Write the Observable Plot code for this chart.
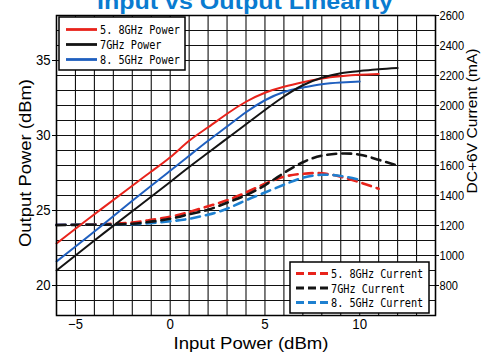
<!DOCTYPE html>
<html><head><meta charset="utf-8">
<script src="https://cdn.jsdelivr.net/npm/d3@7"></script>
<script src="https://cdn.jsdelivr.net/npm/@observablehq/plot@0.6"></script>
<style>
body{margin:0;background:#fff}
#chart{position:relative;width:497px;height:353px;overflow:hidden}
</style>
</head><body><div id="chart"></div>
<script>
// ---- data ----
const xTicks = [-5, 0, 5, 10];
const leftTicks = [20, 25, 30, 35];
const rightTickLabels = [800, 1000, 1200, 1400, 1600, 1800, 2000, 2200, 2400, 2600];

const powerX58 = [-6, -4, -2, -1, 0, 1, 2, 3, 4, 5, 6, 7, 8, 9, 10, 11];
const power58  = [22.8, 24.75, 26.65, 27.6, 28.55, 29.65, 30.55, 31.45, 32.25, 32.85, 33.25, 33.55, 33.8, 33.95, 34.05, 34.1];
const powerX7  = [-6, -4, -2, 0, 1, 2, 3, 4, 5, 6, 7, 8, 9, 10, 11, 12];
const power7   = [21.0, 23.0, 24.95, 26.9, 27.9, 28.85, 29.8, 30.75, 31.7, 32.6, 33.35, 33.85, 34.15, 34.3, 34.42, 34.5];
const powerX85 = [-6, -4, -2, 0, 1, 2, 3, 4, 5, 6, 7, 8, 9, 10];
const power85  = [21.6, 23.6, 25.65, 27.65, 28.65, 29.65, 30.6, 31.55, 32.35, 32.9, 33.2, 33.42, 33.53, 33.6];

const currX58 = [-6, -4, -2, -1, 0, 1, 2, 3, 4, 5, 6, 7, 8, 9, 10, 11];
const curr58  = [1205, 1207, 1220, 1238, 1258, 1290, 1328, 1368, 1420, 1478, 1525, 1545, 1548, 1525, 1488, 1445];
const currX7  = [-6, -4, -2, 0, 1, 2, 3, 4, 5, 6, 7, 8, 9, 10, 11, 12];
const curr7   = [1202, 1205, 1212, 1245, 1275, 1305, 1352, 1402, 1468, 1550, 1622, 1665, 1680, 1672, 1638, 1600];
const currX85 = [-6, -4, -2, 0, 1, 2, 3, 4, 5, 6, 7, 8, 9, 10];
const curr85  = [1205, 1205, 1208, 1228, 1245, 1272, 1312, 1368, 1420, 1472, 1518, 1538, 1530, 1505];

const powerNames = ["5. 8GHz Power", "7GHz Power", "8. 5GHz Power"];
const currentNames = ["5. 8GHz Current", "7GHz Current", "8. 5GHz Current"];

// ---- helpers ----
const RED = "#e8231b", BLACK = "#141414", BLUE = "#1f5fbf", BLUE2 = "#1e80d0";
const toAxis = mA => 18 + (mA - 600) / 100;   // right axis 600..2600 mA  <->  left axis 18..38 dBm
const fromAxis = v => 600 + (v - 18) * 100;
const pts = (xs, ys, f = d => d) => xs.map((x, i) => ({x, y: f(ys[i])}));

const sans = "'Liberation Sans',Arial,sans-serif";

const plot = Plot.plot({
  width: 497, height: 353,
  marginTop: 15, marginBottom: 38, marginLeft: 56, marginRight: 62,
  x: {domain: [-6, 14]},
  y: {domain: [18, 38]},
  style: {fontFamily: sans, background: "#fff", color: "#000"},
  marks: [
    Plot.gridX({ticks: d3.range(-6, 15), stroke: "#111", strokeOpacity: 1, strokeWidth: 1.1}),
    Plot.gridY({ticks: d3.range(18, 39), stroke: "#111", strokeOpacity: 1, strokeWidth: 1.1}),
    Plot.axisX({ticks: xTicks, tickSize: 0, tickPadding: 4, fontSize: 14, label: null}),
    Plot.axisY({ticks: leftTicks, anchor: "left", tickSize: 4, tickPadding: 2, fontSize: 15, label: null}),
    Plot.axisY({ticks: rightTickLabels.map(toAxis), anchor: "right", tickSize: 3, tickPadding: 1,
                tickFormat: d => String(Math.round(fromAxis(d))), fontSize: 12.5, label: null}),
    Plot.line(pts(currX58, curr58, toAxis), {x: "x", y: "y", stroke: RED, strokeWidth: 2.6, strokeDasharray: "9,6", curve: "natural"}),
    Plot.line(pts(currX85, curr85, toAxis), {x: "x", y: "y", stroke: BLUE2, strokeWidth: 2.6, strokeDasharray: "9,6", curve: "natural"}),
    Plot.line(pts(currX7, curr7, toAxis), {x: "x", y: "y", stroke: BLACK, strokeWidth: 2.6, strokeDasharray: "9,6", curve: "natural"}),
    Plot.line(pts(powerX58, power58), {x: "x", y: "y", stroke: RED, strokeWidth: 2, curve: "natural"}),
    Plot.line(pts(powerX85, power85), {x: "x", y: "y", stroke: BLUE, strokeWidth: 2, curve: "natural"}),
    Plot.line(pts(powerX7, power7), {x: "x", y: "y", stroke: BLACK, strokeWidth: 2, curve: "natural"}),
    Plot.frame({stroke: "#000", strokeWidth: 1.5})
  ]
});

document.getElementById("chart").appendChild(plot);
const svg = d3.select(plot);

// narrow tick labels, as in the reference
svg.selectAll('g[aria-label="x-axis tick label"] text').each(function() {
  const t = this.textContent; d3.select(this).attr("textLength", t.length * 7.4).attr("lengthAdjust", "spacingAndGlyphs");
});
svg.selectAll('g[aria-label="y-axis tick label"] text').each(function() {
  const t = this.textContent;
  const w = t.length >= 3 ? t.length * 6.15 : t.length * 7.3;
  d3.select(this).attr("textLength", w).attr("lengthAdjust", "spacingAndGlyphs");
});

// title (partly above the top edge, as in the reference)
svg.append("text").attr("x", 245).attr("y", 9).attr("text-anchor", "middle")
  .attr("font-family", sans).attr("font-weight", "bold")
  .attr("font-size", 22).attr("fill", "#0a7bd0")
  .attr("textLength", 296).attr("lengthAdjust", "spacingAndGlyphs")
  .text("Input vs Output Linearity");

// axis titles
svg.append("text").attr("transform", "translate(31,163) rotate(-90)").attr("text-anchor", "middle")
  .attr("font-family", sans).attr("font-size", 16)
  .attr("textLength", 168).attr("lengthAdjust", "spacingAndGlyphs")
  .text("Output Power (dBm)");
svg.append("text").attr("transform", "translate(477,121) rotate(-90)").attr("text-anchor", "middle")
  .attr("font-family", sans).attr("font-size", 15)
  .attr("textLength", 145).attr("lengthAdjust", "spacingAndGlyphs")
  .text("DC+6V Current (mA)");
svg.append("text").attr("x", 251).attr("y", 349).attr("text-anchor", "middle")
  .attr("font-family", sans).attr("font-size", 17)
  .attr("textLength", 155).attr("lengthAdjust", "spacingAndGlyphs")
  .text("Input Power (dBm)");

// legends
function legend(x0, y0, w, h, names, colors, dash, sw, tx, rowY) {
  const g = svg.append("g");
  g.append("rect").attr("x", x0).attr("y", y0).attr("width", w).attr("height", h)
    .attr("fill", "#fff").attr("stroke", "#000").attr("stroke-width", 1.5);
  names.forEach((n, i) => {
    const y = rowY[i];
    g.append("line").attr("x1", sw[0]).attr("x2", sw[1]).attr("y1", y).attr("y2", y)
      .attr("stroke", colors[i]).attr("stroke-width", 2.8).attr("stroke-dasharray", dash);
    g.append("text").attr("x", tx).attr("y", y).attr("dy", "0.36em").attr("text-anchor", "start")
      .attr("font-family", "'DejaVu Sans Mono','Liberation Mono',monospace").attr("font-size", 12.5)
      .attr("textLength", n.length * 6.15).attr("lengthAdjust", "spacingAndGlyphs")
      .text(n);
  });
}
legend(59, 17, 126, 53, powerNames, [RED, BLACK, BLUE], null, [66, 97], 100, [29.5, 44.5, 59.5]);
legend(290, 262, 139, 51, currentNames, [RED, BLACK, BLUE2], "8,4", [296, 330], 331, [273.5, 288, 302.5]);
</script>
</body></html>
